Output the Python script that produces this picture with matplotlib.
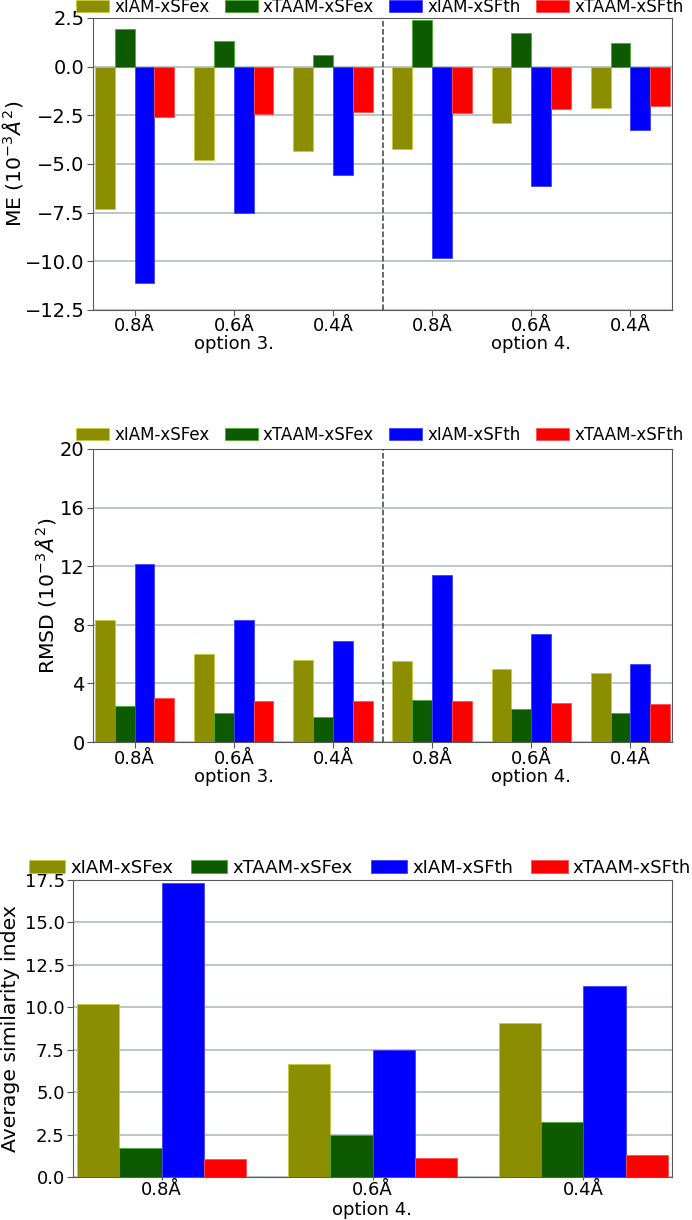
import numpy as np
import matplotlib
matplotlib.use("Agg")
import matplotlib.pyplot as plt

series = ["xIAM-xSFex", "xTAAM-xSFex", "xIAM-xSFth", "xTAAM-xSFth"]
colors = ["#8a8e00", "#0e5a00", "#0000ff", "#ff0000"]
edges = ["#c8c840", "#4caa30", "#4040ff", "#ff5050"]

labels_two = ["0.8Å", "0.6Å\noption 3.", "0.4Å", "0.8Å", "0.6Å\noption 4.", "0.4Å"]
labels_one = ["0.8Å", "0.6Å\noption 4.", "0.4Å"]

# ME (10^-3 A^2), option 3 then option 4
me_xiam_ex = [-7.30, -4.81, -4.31, -4.24, -2.90, -2.10]
me_xtaam_ex = [1.92, 1.31, 0.62, 2.42, 1.75, 1.24]
me_xiam_th = [-11.12, -7.53, -5.55, -9.85, -6.13, -3.26]
me_xtaam_th = [-2.56, -2.42, -2.32, -2.37, -2.20, -2.03]

# RMSD (10^-3 A^2)
rmsd_xiam_ex = [8.33, 6.01, 5.62, 5.51, 5.01, 4.71]
rmsd_xtaam_ex = [2.43, 2.00, 1.68, 2.89, 2.28, 1.98]
rmsd_xiam_th = [12.17, 8.35, 6.92, 11.40, 7.37, 5.32]
rmsd_xtaam_th = [3.03, 2.82, 2.82, 2.82, 2.68, 2.59]

# average similarity index, option 4
asi_xiam_ex = [10.18, 6.65, 9.10]
asi_xtaam_ex = [1.71, 2.45, 3.25]
asi_xiam_th = [17.33, 7.49, 11.24]
asi_xtaam_th = [1.06, 1.12, 1.27]

W, H = 692, 1220
fig = plt.figure(figsize=(W / 100, H / 100), dpi=100)


def box(l, t, r, b):
    return [l / W, 1 - b / H, (r - l) / W, (b - t) / H]


def panel(ax, data, labels, ylabel, ylim, yticks, yfmt, ylab_x,
          leg_xy, leg_fs, colsp, tick_fs, divider, xpad):
    x = np.arange(len(labels))
    w = 0.2
    for i, vals in enumerate(data):
        ax.bar(x + (i - 1.5) * w, vals, w, color=colors[i], edgecolor=edges[i],
               linewidth=0.6, label=series[i], zorder=3)
    ax.set_xlim(-0.42, len(labels) - 1 + 0.42)
    ax.set_ylim(*ylim)
    ax.set_yticks(yticks)
    ax.set_yticklabels([yfmt.format(v).replace("-", "\u2212") for v in yticks])
    ax.set_xticks(x)
    ax.set_xticklabels(labels)
    ax.tick_params(axis="y", labelsize=tick_fs, color="#555555", length=4, pad=2)
    ax.tick_params(axis="x", labelsize=13, color="#555555", length=4, pad=xpad)
    for t in ax.get_xticklabels():
        t.set_linespacing(1.0)
    ax.set_ylabel(ylabel, fontsize=14.7)
    ax.yaxis.set_label_coords(ylab_x, 0.5)
    ax.yaxis.grid(True, color="#a8b8b8", linewidth=1.1, zorder=0)
    ax.set_axisbelow(True)
    for s in ax.spines.values():
        s.set_color("#5a5a5a")
    if divider:
        ax.axvline(2.5, color="#404040", linestyle="--", linewidth=1.1, zorder=4)
    ax.legend(loc="center", bbox_to_anchor=leg_xy, ncol=4, frameon=False,
              fontsize=leg_fs, handlelength=2.0, handleheight=0.7,
              handletextpad=0.3, columnspacing=colsp, borderaxespad=0, borderpad=0)


ax1 = fig.add_axes(box(93, 18, 672, 310))
panel(ax1, [me_xiam_ex, me_xtaam_ex, me_xiam_th, me_xtaam_th], labels_two,
      r"ME ($10^{-3}\AA^2$)", (-12.5, 2.5), np.arange(-12.5, 2.6, 2.5), "{:.1f}",
      -0.117, (0.495, 1 + 11 / 292), 12, 0.9, 14, True, 1.2)

ax2 = fig.add_axes(box(93, 449, 672, 742))
panel(ax2, [rmsd_xiam_ex, rmsd_xtaam_ex, rmsd_xiam_th, rmsd_xtaam_th], labels_two,
      r"RMSD ($10^{-3}\AA^2$)", (0, 20), np.arange(0, 21, 4), "{:.0f}",
      -0.06, (0.495, 1 + 14 / 293), 12, 0.9, 14, True, 1.5)

ax3 = fig.add_axes(box(73, 880, 672, 1177))
panel(ax3, [asi_xiam_ex, asi_xtaam_ex, asi_xiam_th, asi_xtaam_th], labels_one,
      "Average similarity index", (0, 17.5), np.arange(0, 17.6, 2.5), "{:.1f}",
      -0.088, (0.479, 1 + 12 / 297), 13, 1.0, 13, False, 1.0)
ax3.tick_params(axis="x", length=2)
for t in ax3.get_xticklabels():
    t.set_linespacing(1.1)

fig.savefig("out.png", dpi=100)
